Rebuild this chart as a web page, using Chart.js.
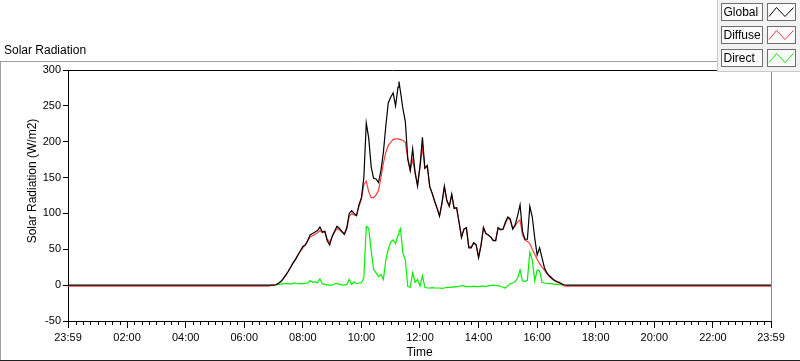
<!DOCTYPE html>
<html>
<head>
<meta charset="utf-8">
<script src="https://cdn.jsdelivr.net/npm/chart.js@4.4.0/dist/chart.umd.min.js"></script>
<style>
html, body { margin: 0; padding: 0; background: #fff; overflow: hidden; }
</style>
</head>
<body>
<canvas id="myChart" width="800" height="361"></canvas>
<script>
// minutes after midnight, -1 and 1439 are the two 23:59 ends of the axis
const minutes = [
  -1, 405, 410, 415,
  420, 425, 430, 435, 440, 445, 450, 455, 460, 465, 470, 475,
  480, 485, 490, 495, 500, 505, 510, 515, 520, 525, 530, 535,
  540, 545, 550, 555, 560, 565, 570, 575, 580, 585, 590, 595,
  600, 605, 610, 615, 620, 625, 630, 635, 640, 645, 650, 655,
  660, 665, 670, 675, 677, 680, 685, 690, 695, 700, 705, 710, 715,
  720, 725, 730, 735, 740, 745, 750, 755, 760, 765, 770, 775,
  780, 785, 790, 795, 800, 805, 810, 815, 820, 825, 830, 835,
  840, 845, 850, 855, 860, 865, 870, 875, 880, 885, 890, 895,
  900, 905, 910, 915, 920, 925, 930, 935, 940, 945, 950, 955,
  960, 965, 970, 975, 980, 985, 990, 995, 1000, 1005, 1010, 1015,
  1020, 1439
];

const globalRad = [
  0, 0, 0, 0,
  0, 0.5, 2.5, 5, 9, 14, 19, 25, 31, 36, 42, 48,
  54, 56, 62, 70, 72, 74, 76, 81, 74, 75, 62, 56,
  68, 75, 82, 79, 75, 71, 80, 100, 104, 100, 97, 112,
  122, 150, 226, 205, 165, 149, 148, 143, 160, 185, 222, 254,
  262, 268, 250, 276, 284, 270, 246, 228, 176, 160, 190, 157, 138,
  166, 206, 163, 167, 137, 128, 117, 107, 96, 115, 138, 118,
  110, 127, 107, 108, 88, 66, 78, 80, 52, 52, 59, 56,
  38, 55, 80, 72, 70, 67, 62, 62, 80, 77, 78, 88,
  95, 92, 78, 84, 97, 112, 75, 64, 64, 110, 95, 66,
  42, 52, 38, 24, 17, 13, 10, 7, 5, 4, 2, 0.5,
  0, 0
];

const diffuseRad = [
  -1.5, -1.5, -1.5, 0,
  0, 0.5, 2.5, 5, 9, 14, 19, 25, 31, 36, 42, 47,
  52, 56, 62, 67, 69, 71, 73, 76, 73, 75, 64, 60,
  67, 74, 79, 77, 74, 71, 78, 96, 100, 98, 97, 110,
  120, 140, 145, 130, 122, 122, 126, 132, 150, 170, 185, 195,
  199, 203, 204, 204, 204, 203, 202, 199, 176, 160, 175, 157, 140,
  165, 192, 163, 165, 138, 128, 117, 108, 97, 113, 136, 118,
  110, 125, 107, 108, 88, 68, 78, 80, 54, 53, 59, 57,
  40, 56, 81, 72, 70, 67, 63, 62, 80, 78, 78, 86,
  94, 90, 79, 83, 88, 91, 70, 63, 61, 58, 50, 43,
  36, 30, 25, 21, 16, 12, 9, 6, 4.5, 3, 1.5, -1,
  -1.5, -1.5
];

// null = hidden under the other traces at night
const directRad = [
  null, null, null, null,
  null, 0.5, 1, 1.5, 2, 2, 2, 1.5, 2.5, 3, 2, 2,
  2, 2.5, 3, 6.5, 4, 5, 3, 8.5, 2, 1, 0.5, 0,
  0, 2, 2.5, 1, 0.5, 0, 1, 8, 1, 4.5, 2, 3,
  3, 10, 82, 79, 48, 22, 17, 12, 15, 8, 35, 50,
  60, 63, 58, 70, 75, 79, 45, 35, -2, -3, 17, 4, 8,
  -1, 13, -3, -4, -4, -3.5, -4, -4, -4, -4.5, -4, -3,
  -3, -3, -2, -2.5, -1.5, -1, -1, -2, -2, -2, -1.5, -2,
  -2, -1.5, -1.5, -2, -1, -0.5, 0, -0.5, -1, -1.5, -3, -4,
  -1, 2, 3, 5, 10, 21, 6, 5, 7, 46, 35, 6,
  21, 20, 4, 3, 2.5, 2, 2, 1.5, 1, 1, 0.5, 0,
  null, null
];

const xTicks = [-1, 120, 240, 360, 480, 600, 720, 840, 960, 1080, 1200, 1320, 1439];
const seriesNames = ['Global', 'Diffuse', 'Direct'];
const seriesColors = ['#000000', '#ff3c3c', '#00f000'];

Chart.defaults.font.family = "'Liberation Sans', Arial, sans-serif";
Chart.defaults.color = '#000';

function fmtTime(v) {
  if (v < 0 || v >= 1439) return '23:59';
  const h = Math.floor(v / 60);
  return (h < 10 ? '0' + h : h) + ':00';
}

function pts(arr) {
  return minutes.map((m, i) => ({x: m, y: arr[i]}));
}

// frame, minor ticks, titles and the LabVIEW style legend
const decor = {
  id: 'decor',
  afterDraw(chart) {
    const ctx = chart.ctx;
    const a = chart.chartArea;
    const x = chart.scales.x;
    ctx.save();

    // minor x ticks every 15 min
    ctx.strokeStyle = '#000';
    ctx.lineWidth = 1;
    ctx.beginPath();
    for (let m = 15; m < 1439; m += 15) {
      if (m % 120 === 0) continue;
      const px = Math.round(x.getPixelForValue(m)) + 0.5;
      ctx.moveTo(px, a.bottom);
      ctx.lineTo(px, a.bottom + 4);
    }
    ctx.stroke();

    // plot top border (black) and right border (grey)
    ctx.beginPath();
    ctx.moveTo(a.left, Math.round(a.top) + 0.5);
    ctx.lineTo(717, Math.round(a.top) + 0.5);
    ctx.stroke();
    ctx.strokeStyle = '#8c8c8c';
    ctx.beginPath();
    ctx.moveTo(Math.round(a.right) + 0.5, 72);
    ctx.lineTo(Math.round(a.right) + 0.5, a.bottom);
    ctx.stroke();

    // outer frame
    ctx.strokeStyle = '#a0a0a0';
    ctx.beginPath();
    ctx.moveTo(0, 61.5); ctx.lineTo(717, 61.5);
    ctx.moveTo(0.5, 61.5); ctx.lineTo(0.5, 361);
    ctx.stroke();
    ctx.strokeStyle = '#202020';
    ctx.beginPath();
    ctx.moveTo(0, 360.5); ctx.lineTo(800, 360.5);
    ctx.stroke();

    // titles
    ctx.fillStyle = '#000';
    ctx.font = "12px 'Liberation Sans', Arial, sans-serif";
    ctx.textAlign = 'left';
    ctx.textBaseline = 'middle';
    ctx.fillText('Solar Radiation', 4, 51);
    ctx.save();
    ctx.translate(33, 181);
    ctx.rotate(-Math.PI / 2);
    ctx.textAlign = 'center';
    ctx.fillText('Solar Radiation (W/m2)', 0, 0);
    ctx.restore();

    // legend panel
    ctx.fillStyle = '#f2f2f2';
    ctx.fillRect(717, 0, 83, 72);
    ctx.strokeStyle = '#c8c8c8';
    ctx.beginPath();
    ctx.moveTo(717.5, 0); ctx.lineTo(717.5, 71.5); ctx.lineTo(800, 71.5);
    ctx.stroke();
    seriesNames.forEach((name, i) => {
      const y0 = 3.5 + i * 23;
      ctx.fillStyle = '#fbfbfb';
      ctx.fillRect(721.5, y0, 41, 17);
      ctx.fillRect(767.5, y0, 28, 17);
      ctx.strokeStyle = '#6e6e6e';
      ctx.strokeRect(721.5, y0, 41, 17);
      ctx.strokeRect(767.5, y0, 28, 17);
      ctx.fillStyle = '#000';
      ctx.textAlign = 'left';
      ctx.fillText(name, 723.5, y0 + 9);
      ctx.strokeStyle = seriesColors[i];
      ctx.beginPath();
      ctx.moveTo(769, y0 + 13);
      ctx.lineTo(776.5, y0 + 4);
      ctx.lineTo(785, y0 + 13);
      ctx.lineTo(793.5, y0 + 4);
      ctx.stroke();
    });
    ctx.restore();
  }
};

new Chart(document.getElementById('myChart'), {
  type: 'line',
  data: {
    datasets: [
      {label: seriesNames[0], data: pts(globalRad), borderColor: seriesColors[0], borderWidth: 1.2, pointRadius: 0, order: 1},
      {label: seriesNames[1], data: pts(diffuseRad), borderColor: seriesColors[1], borderWidth: 1.2, pointRadius: 0, order: 2},
      {label: seriesNames[2], data: pts(directRad), borderColor: seriesColors[2], borderWidth: 1.2, pointRadius: 0, order: 3}
    ]
  },
  options: {
    responsive: false,
    animation: false,
    devicePixelRatio: 1,
    layout: {padding: {top: 70, right: 29, left: 0, bottom: 0}},
    plugins: {legend: {display: false}, tooltip: {enabled: false}},
    scales: {
      x: {
        type: 'linear',
        min: -1,
        max: 1439,
        afterBuildTicks(s) { s.ticks = xTicks.map(v => ({value: v})); },
        afterFit(s) { s.height = 40; },
        ticks: {callback: fmtTime, autoSkip: false, maxRotation: 0, padding: 3, font: {size: 11}, color: '#000'},
        grid: {drawOnChartArea: false, tickLength: 7, tickColor: '#000'},
        border: {color: '#000'},
        title: {display: true, text: 'Time', font: {size: 12}, color: '#000', padding: {top: 0, bottom: 1}}
      },
      y: {
        min: -50,
        max: 300,
        afterFit(s) { s.width = 68; },
        ticks: {stepSize: 50, padding: 2, font: {size: 11}, color: '#000'},
        grid: {drawOnChartArea: false, tickLength: 5, tickColor: '#000'},
        border: {color: '#000'}
      }
    }
  },
  plugins: [decor]
});
</script>
</body>
</html>
